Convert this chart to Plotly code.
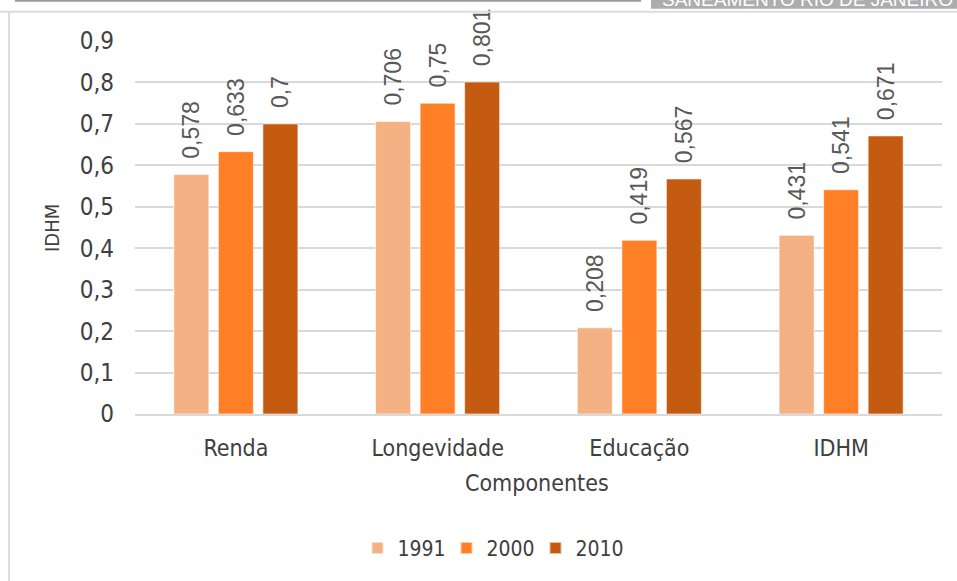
import plotly.graph_objects as go

categories = ["Renda", "Longevidade", "Educação", "IDHM"]
years = ["1991", "2000", "2010"]
v1991 = [0.578, 0.706, 0.208, 0.431]
v2000 = [0.633, 0.75, 0.419, 0.541]
v2010 = [0.7, 0.801, 0.567, 0.671]
colors = ["#F4B183", "#FF7F27", "#C55A11"]
ytick_vals = [0, 0.1, 0.2, 0.3, 0.4, 0.5, 0.6, 0.7, 0.8, 0.9]
ytick_text = ["0", "0,1", "0,2", "0,3", "0,4", "0,5", "0,6", "0,7", "0,8", "0,9"]
x_title = "Componentes"
y_title = "IDHM"
header_text = "SANEAMENTO RIO DE JANEIRO"

W, H = 957, 581
L, R, T, B = 135, 15, 41, 165
PW, PH = W - L - R, H - T - B

def px(x):
    return (x - L) / PW

def py(y):
    return (H - B - y) / PH

def fmt(v):
    s = ("%.3f" % v).rstrip("0").rstrip(".")
    return "\u00a0\u00a0" + s.replace(".", ",")

fig = go.Figure()
for name, vals, col in zip(years, [v1991, v2000, v2010], colors):
    fig.add_trace(go.Bar(
        x=categories, y=vals, name=name,
        marker=dict(color=col, line=dict(color="rgba(255,255,255,0.6)", width=1)),
        text=[fmt(v) for v in vals], textposition="outside", textangle=-90,
        textfont=dict(family="Liberation Sans", size=23, color="#595959"),
        cliponaxis=False, constraintext="none", hoverinfo="skip",
    ))

font_main = "DejaVu Sans Condensed, DejaVu Sans"

fig.update_layout(
    width=W, height=H,
    margin=dict(l=L, r=R, t=T, b=B, pad=0),
    paper_bgcolor="white", plot_bgcolor="white",
    barmode="group", bargap=0.338, bargroupgap=0.213,
    font=dict(family=font_main, color="#595959", size=20),
    showlegend=True,
    legend=dict(orientation="h", x=px(491), xanchor="center", y=py(551), yanchor="middle",
                font=dict(size=21, color="#404040", family=font_main), itemwidth=30,
                entrywidth=44, entrywidthmode="pixels",
                traceorder="normal", itemsizing="constant"),
    xaxis=dict(showgrid=False, showline=True, linecolor="#d9d9d9", linewidth=2,
               ticks="", ticklabelstandoff=12, tickfont=dict(size=23, color="#404040")),
    yaxis=dict(range=[0, 0.9], tickvals=ytick_vals, ticktext=ytick_text,
               showgrid=True, gridcolor="#d9d9d9", gridwidth=2, zeroline=False,
               showline=False, ticks="", ticklabelstandoff=20,
               tickfont=dict(size=24, color="#404040")),
)

# axis titles
fig.add_annotation(text=x_title, xref="paper", yref="paper", x=px(537), y=py(485),
                   showarrow=False, xanchor="center", yanchor="middle",
                   font=dict(size=23, color="#404040", family=font_main))
fig.add_annotation(text=y_title, xref="paper", yref="paper", x=px(52), y=py(229),
                   showarrow=False, textangle=-90, xanchor="center", yanchor="middle",
                   font=dict(size=20, color="#404040", family=font_main))

# page header decorations
fig.add_shape(type="line", xref="paper", yref="paper", x0=px(15), x1=px(641), y0=py(0.5), y1=py(0.5),
              line=dict(color="#9a9a9a", width=2))
fig.add_shape(type="rect", xref="paper", yref="paper", x0=px(651), x1=px(960), y0=py(-2), y1=py(8.5),
              line=dict(width=0), fillcolor="#adadaf")
fig.add_annotation(text=header_text, xref="paper", yref="paper", x=px(660), y=py(-1),
                   showarrow=False, xanchor="left", yanchor="middle",
                   font=dict(size=19, color="white", family="Liberation Sans"))
fig.add_shape(type="line", xref="paper", yref="paper", x0=px(0), x1=px(957), y0=py(11.5), y1=py(11.5),
              line=dict(color="#dcdcdc", width=2))
fig.add_shape(type="line", xref="paper", yref="paper", x0=px(9), x1=px(9), y0=py(11.5), y1=py(590),
              line=dict(color="#dcdcdc", width=2))

fig.write_html("out.html", config={"displayModeBar": False, "staticPlot": True},
               post_script="document.body.style.margin='0';document.body.style.overflow='hidden';")
